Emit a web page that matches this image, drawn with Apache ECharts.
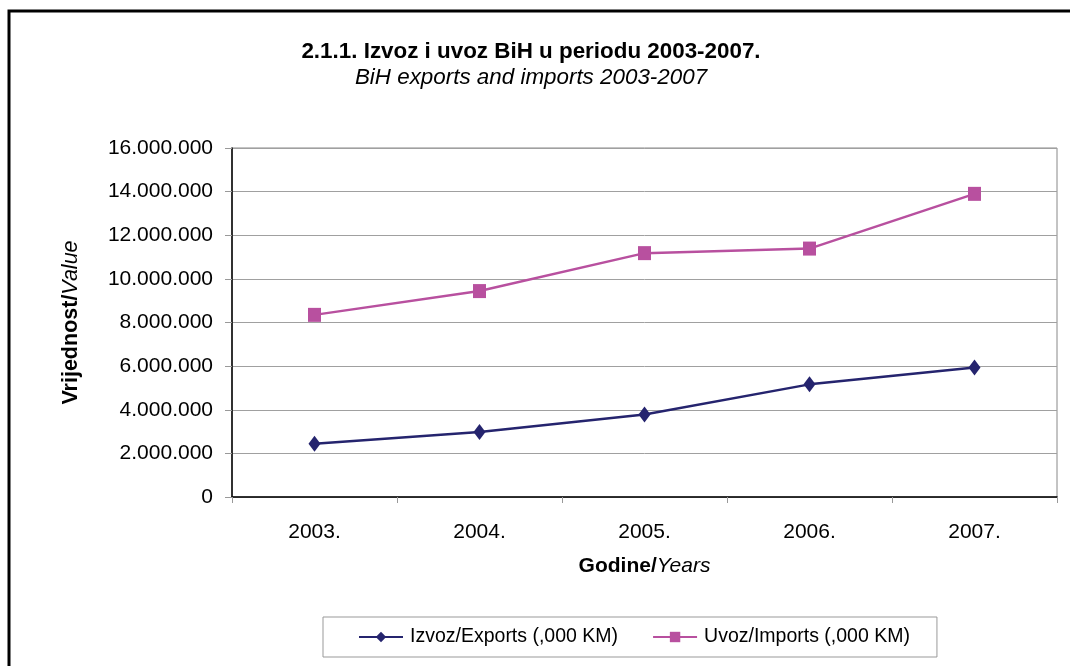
<!DOCTYPE html>
<html>
<head>
<meta charset="utf-8">
<script src="https://cdn.jsdelivr.net/npm/echarts@6/dist/echarts.min.js"></script>
<style>html,body{margin:0;padding:0;background:#fff}#c{width:1070px;height:666px}</style>
</head>
<body>
<div id="c"></div>
<script>
const years = ['2003.', '2004.', '2005.', '2006.', '2007.'];
const exportsData = [2440000, 2980000, 3780000, 5164000, 5937000];
const importsData = [8350000, 9440000, 11180000, 11389000, 13898000];
const seriesNames = ['Izvoz/Exports (,000 KM)', 'Uvoz/Imports (,000 KM)'];
const titleText = '2.1.1. Izvoz i uvoz BiH u periodu 2003-2007.';
const subtitleText = 'BiH exports and imports 2003-2007';

function fmt(v) {
  return String(Math.round(v)).replace(/\B(?=(\d{3})+(?!\d))/g, '.');
}

const FONT = 'Liberation Sans, Arial, sans-serif';
const chart = echarts.init(document.getElementById('c'), null, {renderer: 'canvas'});
chart.setOption({
  animation: false,
  backgroundColor: '#fff',
  textStyle: {fontFamily: FONT},
  graphic: [{
    type: 'rect',
    shape: {x: 9, y: 11, width: 1100, height: 700},
    style: {fill: 'none', stroke: '#000', lineWidth: 3},
    silent: true
  }],
  title: {
    text: titleText,
    subtext: subtitleText,
    left: 526,
    textAlign: 'center',
    top: 36,
    itemGap: 4,
    textStyle: {fontFamily: FONT, fontSize: 22.4, fontWeight: 'bold', color: '#000'},
    subtextStyle: {fontFamily: FONT, fontSize: 22.4, fontStyle: 'italic', color: '#000'}
  },
  legend: {
    left: 323,
    top: 617,
    itemWidth: 44,
    itemHeight: 13,
    itemGap: 34,
    padding: [10, 27, 10, 35],
    borderColor: '#999',
    borderWidth: 1,
    textStyle: {fontFamily: FONT, fontSize: 19.5, color: '#000', padding: [0, 0, 0, 2]},
    data: seriesNames
  },
  grid: {left: 232, right: 13, top: 148, bottom: 169, show: true, borderColor: '#888', borderWidth: 1},
  xAxis: {
    type: 'category',
    data: years,
    boundaryGap: true,
    name: '{b|Godine/}{i|Years}',
    nameLocation: 'middle',
    nameGap: 59,
    nameTextStyle: {
      rich: {
        b: {fontFamily: FONT, fontSize: 21, fontWeight: 'bold', color: '#000'},
        i: {fontFamily: FONT, fontSize: 21, fontStyle: 'italic', color: '#000'}
      }
    },
    axisLine: {lineStyle: {color: '#000', width: 1.5}},
    axisTick: {show: true, length: 6, lineStyle: {color: '#999'}},
    axisLabel: {fontFamily: FONT, fontSize: 21, color: '#000', margin: 25},
    splitLine: {show: false}
  },
  yAxis: {
    type: 'value',
    min: 0,
    max: 16000000,
    interval: 2000000,
    name: '{b|Vrijednost/}{i|Value}',
    nameLocation: 'middle',
    nameRotate: 90,
    nameGap: 150,
    nameTextStyle: {
      rich: {
        b: {fontFamily: FONT, fontSize: 21.5, fontWeight: 'bold', color: '#000'},
        i: {fontFamily: FONT, fontSize: 21.5, fontStyle: 'italic', color: '#000'}
      }
    },
    axisLine: {show: true, lineStyle: {color: '#000', width: 1.5}},
    axisTick: {show: true, length: 7, lineStyle: {color: '#999'}},
    axisLabel: {fontFamily: FONT, fontSize: 21, color: '#000', margin: 19, formatter: fmt},
    splitLine: {show: true, lineStyle: {color: '#a0a0a0', width: 1}}
  },
  series: [{
    name: seriesNames[0],
    type: 'line',
    data: exportsData,
    symbol: 'diamond',
    symbolSize: [12, 16],
    color: '#25246e',
    lineStyle: {color: '#25246e', width: 2.5},
    itemStyle: {color: '#25246e'}
  }, {
    name: seriesNames[1],
    type: 'line',
    data: importsData,
    symbol: 'rect',
    symbolSize: [13, 14],
    color: '#b8509f',
    lineStyle: {color: '#b8509f', width: 2.5},
    itemStyle: {color: '#b8509f'}
  }]
});
</script>
</body>
</html>
